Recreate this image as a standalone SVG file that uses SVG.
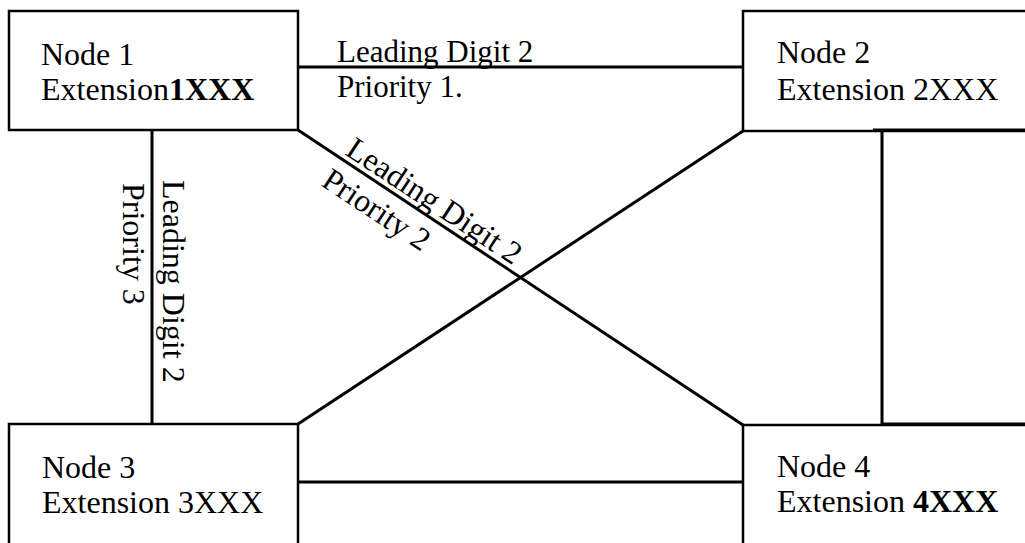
<svg xmlns="http://www.w3.org/2000/svg" width="1025" height="543" viewBox="0 0 1025 543">
<style>
.box{fill:none;stroke:#000;stroke-width:2.5}
.ln{fill:none;stroke:#000;stroke-width:3}
.tx{font-family:"Liberation Serif","Times New Roman",serif;font-size:32px;fill:#000}
.sm{font-size:31px}
.b{font-weight:bold}
</style>
<rect width="1025" height="543" fill="#fff"/>
<g id="connectors">
<line class="ln" x1="298" y1="67" x2="743" y2="67"/>
<line class="ln" x1="152" y1="130" x2="152" y2="424"/>
<line class="ln" x1="298" y1="130" x2="743" y2="425"/>
<line class="ln" x1="298" y1="424" x2="743" y2="131"/>
<line class="ln" x1="298" y1="482" x2="743" y2="482"/>
<polyline class="ln" points="873,130 1025,130"/>
<line class="ln" x1="882" y1="130" x2="882" y2="425"/>
<polyline class="ln" points="882,424 1025,424"/>
<text class="tx sm" x="337" y="62">Leading Digit 2</text>
<text class="tx sm" x="337" y="97">Priority 1.</text>
<text class="tx" transform="translate(163,180) rotate(90)">Leading Digit 2</text>
<text class="tx" transform="translate(123,183) rotate(90)">Priority 3</text>
<text class="tx" transform="translate(344,154) rotate(33.4)">Leading Digit 2</text>
<text class="tx" transform="translate(320,185) rotate(33.4)">Priority 2</text>
</g>
<g id="node1">
<rect class="box" x="9" y="11" width="289" height="119"/>
<text class="tx" x="41" y="65">Node 1</text>
<text class="tx" x="41" y="100">Extension<tspan class="b">1XXX</tspan></text>
</g>
<g id="node2">
<path class="box" d="M1030,11 H743 V131 H1030"/>
<text class="tx" x="777" y="63">Node 2</text>
<text class="tx" x="777" y="100">Extension 2XXX</text>
</g>
<g id="node3">
<path class="box" d="M9,550 V424 H298 V550"/>
<text class="tx" x="42" y="478">Node 3</text>
<text class="tx" x="42" y="513">Extension 3XXX</text>
</g>
<g id="node4">
<path class="box" d="M743,550 V425 H1030"/>
<text class="tx" x="777" y="477">Node 4</text>
<text class="tx" x="777" y="512">Extension <tspan class="b">4XXX</tspan></text>
</g>
</svg>
